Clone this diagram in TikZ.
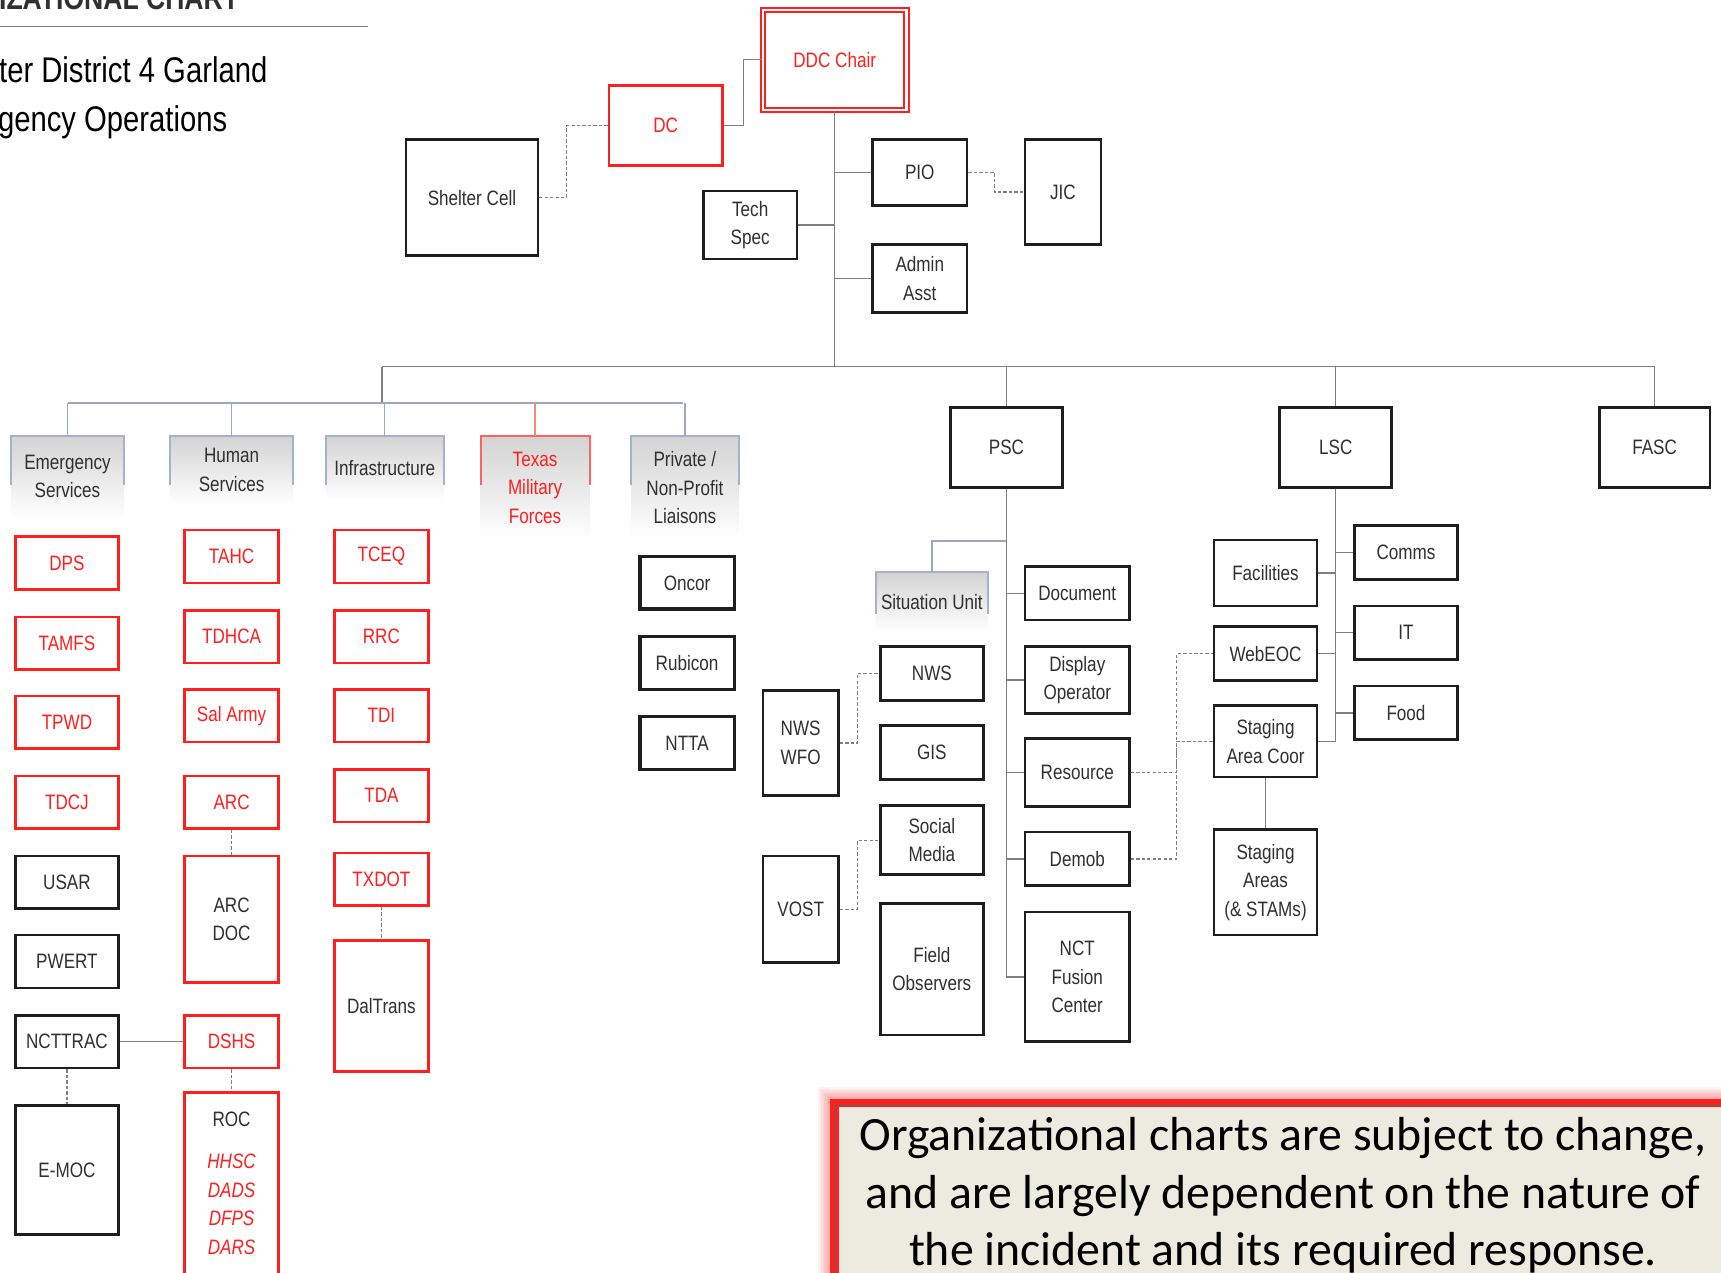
\documentclass[tikz,border=0pt]{standalone}
\usepackage{fontspec}
\setmainfont{Liberation Sans}[FakeStretch=0.82]
\newfontfamily\notefont{Carlito}
\definecolor{ChartRed}{HTML}{FF1F1F}
\definecolor{ChartLine}{HTML}{7F7F7F}
\definecolor{ChartBorder}{HTML}{1E1E1E}
\definecolor{ChartText}{HTML}{303030}
\definecolor{HeadEdge}{HTML}{A3B3CA}
\definecolor{HeadFill}{HTML}{D3D3D3}
\definecolor{NoteFill}{HTML}{EDEAE0}
\newcommand{\agencyname}[1]{\textcolor{ChartRed}{\itshape #1}}

\begin{document}
\begin{tikzpicture}[x=1pt,y=-1pt,
    box/.style={draw=ChartBorder,line width=2.4pt,inner sep=0pt,align=center,
      text=ChartText,font=\fontsize{19}{26}\selectfont},
    redbox/.style={box,draw=ChartRed,text=ChartRed},
    redframe/.style={box,draw=ChartRed},
    heavybox/.style={box,line width=3.2pt},
    head/.style={inner sep=0pt,align=center,text=ChartText,anchor=north,
      font=\fontsize{19}{26}\selectfont,top color=HeadFill,bottom color=white},
    headedge/.style={draw=HeadEdge,line width=1.8pt},
    link/.style={draw=ChartLine,line width=1.2pt},
    dlink/.style={link,dash pattern=on 3pt off 2pt},
    sublink/.style={draw=HeadEdge!80!gray,line width=1.4pt}]
  \useasboundingbox[fill=white] (0,0) rectangle (1568,1159);

  % title
  \node[anchor=base west,inner sep=0pt,text=ChartText,
    font=\fontsize{29.5}{30}\selectfont\bfseries] (charttitle) at (-1,9) {IZATIONAL CHART};
  \draw[ChartLine,line width=1.2pt] (0,24) -- (335,24);
  \node[anchor=base west,inner sep=0pt,text=black,font=\fontsize{32.5}{45}\selectfont]
    (district) at (-1,75) {ter District 4 Garland};
  \node[anchor=base west,inner sep=0pt,text=black,font=\fontsize{32.5}{45}\selectfont]
    (operations) at (-2,120) {gency Operations};

  % command staff
  \node[redbox,double=white,line width=1.8pt,double distance=2.2pt,
    minimum width=131pt,minimum height=91pt] (ddc) at (760.5,54.5) {DDC Chair};
  \node[redbox,minimum width=103pt,minimum height=73pt] (dc) at (606.5,114.5) {DC};
  \node[box,minimum width=120pt,minimum height=106pt] (shelter) at (430,180) {Shelter Cell};
  \node[box,minimum width=86pt,minimum height=60pt] (pio) at (838,157) {PIO};
  \node[box,minimum width=69pt,minimum height=96pt] (jic) at (968.5,175) {JIC};
  \node[box,minimum width=85pt,minimum height=62pt] (tech) at (683.5,205) {Tech\\Spec};
  \node[box,minimum width=86pt,minimum height=62pt] (admin) at (838,254) {Admin\\Asst};

  \coordinate (busL) at (348,334);
  \coordinate (busR) at (1508,334);
  \coordinate (subL) at (62,367);
  \coordinate (subR) at (622,367);

  \draw[link] (dc.east) -- ++(18,0) |- (ddc.west);
  \draw[dlink] (shelter.east) -- ++(25,0) |- (dc.west);
  \draw[link] (ddc.south) -- (ddc.south |- busL);
  \draw[link] (pio.west) -- (pio.west -| ddc.south);
  \draw[link] (tech.east) -- (tech.east -| ddc.south);
  \draw[link] (admin.west) -- (admin.west -| ddc.south);
  \draw[dlink] (pio.east) -- ++(24,0) |- (jic.west);
  \draw[link] (busL) -- (busR);

  % liaison groups
  \node[head,minimum width=103pt,minimum height=74pt] (emerg) at (61.5,397) {Emergency\\Services};
  \node[head,minimum width=112pt,minimum height=62pt] (human) at (211,397) {Human\\Services};
  \node[head,minimum width=107pt,minimum height=58pt] (infra) at (350.5,397) {Infrastructure};
  \node[head,minimum width=99pt,minimum height=94pt,text=ChartRed] (tmf) at (487.5,397) {Texas\\Military\\Forces};
  \node[head,minimum width=98pt,minimum height=94pt] (private) at (624,397) {Private /\\Non-Profit\\Liaisons};
  \foreach \hd in {emerg,human,infra,private}
    \draw[headedge] (\hd.north west) ++(0,45) -- (\hd.north west) -- (\hd.north east) -- ++(0,45);
  \draw[headedge,draw=ChartRed!70] (tmf.north west) ++(0,45) -- (tmf.north west) -- (tmf.north east) -- ++(0,45);

  \draw[link] (busL) -- (busL |- subL);
  \draw[sublink] (subL) -- (subR);
  \foreach \hd in {emerg,human,infra,private}
    \draw[sublink] (\hd.north) -- (\hd.north |- subL);
  \draw[sublink,draw=ChartRed!55] (tmf.north) -- (tmf.north |- subL);

  % emergency services
  \foreach \nm/\y/\lab in {dps/513/DPS,tamfs/586/TAMFS,tpwd/658/TPWD,tdcj/731/TDCJ}
    \node[redbox,minimum width=94pt,minimum height=48pt] (\nm) at (61,\y) {\lab};
  \foreach \nm/\y/\lab in {usar/804/USAR,pwert/876/PWERT,ncttrac/949/NCTTRAC}
    \node[box,minimum width=94pt,minimum height=48pt] (\nm) at (61,\y) {\lab};
  \node[box,minimum width=94pt,minimum height=118pt] (emoc) at (61,1066) {E-MOC};

  % human services
  \foreach \nm/\y/\lab in {tahc/507/TAHC,tdhca/580/TDHCA,salarmy/652/Sal Army,arc/731/ARC,dshs/949/DSHS}
    \node[redbox,minimum width=86pt,minimum height=48pt] (\nm) at (211,\y) {\lab};
  \node[redframe,minimum width=86pt,minimum height=115pt] (arcdoc) at (211,837.5) {ARC\\DOC};
  \node[redframe,minimum width=86pt,minimum height=200pt,anchor=north] (roc) at (211,994) {};
  \node[inner sep=0pt,align=center,text=ChartText,anchor=north,
    font=\fontsize{19}{26}\selectfont] (roclist) at (211,1013)
    {ROC\\[12.5pt]\agencyname{HHSC}\\\agencyname{DADS}\\\agencyname{DFPS}\\\agencyname{DARS}};

  % infrastructure
  \foreach \nm/\y/\lab in {tceq/507/TCEQ,rrc/580/RRC,tdi/652/TDI,tda/725/TDA,txdot/801/TXDOT}
    \node[redbox,minimum width=86pt,minimum height=48pt] (\nm) at (347.5,\y) {\lab};
  \node[redframe,minimum width=86pt,minimum height=119pt] (daltrans) at (347.5,916.5) {DalTrans};

  % private / non-profit
  \foreach \nm/\y/\lab in {oncor/531/Oncor,rubicon/604/Rubicon,ntta/677/NTTA}
    \node[heavybox,minimum width=86pt,minimum height=48pt] (\nm) at (626,\y) {\lab};

  \draw[link] (ncttrac.east) -- (dshs.west);
  \draw[dlink] (ncttrac.south) -- (emoc.north);
  \draw[dlink] (arc.south) -- (arcdoc.north);
  \draw[dlink] (dshs.south) -- (roc.north);
  \draw[dlink] (txdot.south) -- (daltrans.north);

  % sections
  \node[box,minimum width=102pt,minimum height=73pt] (psc) at (917,407.5) {PSC};
  \node[box,minimum width=102pt,minimum height=73pt] (lsc) at (1217,407.5) {LSC};
  \node[box,minimum width=101pt,minimum height=73pt] (fasc) at (1507.5,407.5) {FASC};
  \draw[link] (psc.north) -- (psc.north |- busR);
  \draw[link] (lsc.north) -- (lsc.north |- busR);
  \draw[link] (fasc.north) -- (fasc.north |- busR);

  % planning
  \node[head,minimum width=102pt,minimum height=54pt] (situ) at (849,521) {Situation Unit};
  \draw[headedge] (situ.north west) ++(0,38) -- (situ.north west) -- (situ.north east) -- ++(0,38);
  \node[box,minimum width=94pt,minimum height=49pt] (nws) at (849,613.5) {NWS};
  \node[box,minimum width=94pt,minimum height=49pt] (gis) at (849,685.5) {GIS};
  \node[box,minimum width=94pt,minimum height=63pt] (social) at (849,765.5) {Social\\Media};
  \node[box,minimum width=94pt,minimum height=120pt] (field) at (849,883) {Field\\Observers};
  \node[box,minimum width=69pt,minimum height=96pt] (nwswfo) at (729.5,677) {NWS\\WFO};
  \node[box,minimum width=69pt,minimum height=97pt] (vost) at (729.5,828.5) {VOST};
  \node[box,minimum width=95pt,minimum height=49pt] (document) at (981.5,540.5) {Document};
  \node[box,minimum width=95pt,minimum height=61pt] (display) at (981.5,619.5) {Display\\Operator};
  \node[box,minimum width=95pt,minimum height=62pt] (resource) at (981.5,704) {Resource};
  \node[box,minimum width=95pt,minimum height=49pt] (demob) at (981.5,782.5) {Demob};
  \node[box,minimum width=95pt,minimum height=118pt] (nct) at (981.5,890) {NCT\\Fusion\\Center};

  \coordinate (psctap) at (917,493);
  \draw[link] (psc.south) |- (nct.west);
  \draw[sublink] (situ.north) |- (psctap);
  \foreach \nd in {document,display,resource,demob}
    \draw[link] (\nd.west) -- (\nd.west -| psc.south);
  \draw[dlink] (nwswfo.east) -- ++(16,0) |- (nws.west);
  \draw[dlink] (vost.east) -- ++(16,0) |- (social.west);

  % logistics
  \node[box,minimum width=94pt,minimum height=60pt] (facilities) at (1153,522) {Facilities};
  \node[box,minimum width=94pt,minimum height=49pt] (webeoc) at (1153,595.5) {WebEOC};
  \node[box,minimum width=94pt,minimum height=65pt] (stagecoor) at (1153,675.5) {Staging\\Area Coor};
  \node[box,minimum width=94pt,minimum height=96pt] (stageareas) at (1153,804) {Staging\\Areas\\(\& STAMs)};
  \node[box,minimum width=94pt,minimum height=49pt] (comms) at (1281,503.5) {Comms};
  \node[box,minimum width=94pt,minimum height=49pt] (it) at (1281,576.5) {IT};
  \node[box,minimum width=94pt,minimum height=49pt] (food) at (1281,649.5) {Food};

  \draw[link] (lsc.south) |- (stagecoor.east);
  \foreach \nd in {facilities,webeoc}
    \draw[link] (\nd.east) -- (\nd.east -| lsc.south);
  \foreach \nd in {comms,it,food}
    \draw[link] (\nd.west) -- (\nd.west -| lsc.south);
  \draw[link] (stagecoor.south) -- (stageareas.north);
  \draw[dlink] (demob.east) -- ++(42,0) |- (webeoc.west);
  \draw[dlink] (resource.east) -- ++(42,0) |- (stagecoor.west);

  % note
  \foreach \g in {1,...,8}
    \draw[ChartRed,opacity=0.05,line width=\g*2.6pt] (756,1001) rectangle (1700,1300);
  \node[draw=ChartRed,line width=8pt,fill=NoteFill,minimum width=944pt,minimum height=299pt,
    anchor=north west] (note) at (756,1001) {};
  \draw[ChartBorder!70,line width=1pt] ([shift={(5pt,-5pt)}]note.north west) rectangle (note.south east);
  \node[inner sep=0pt,align=center,text=black,font=\notefont\fontsize{43.5}{52}\selectfont]
    (notetext) at (1169,1089) {Organizational charts are subject to change,\\
    and are largely dependent on the nature of\\the incident and its required response.};
\end{tikzpicture}
\end{document}
